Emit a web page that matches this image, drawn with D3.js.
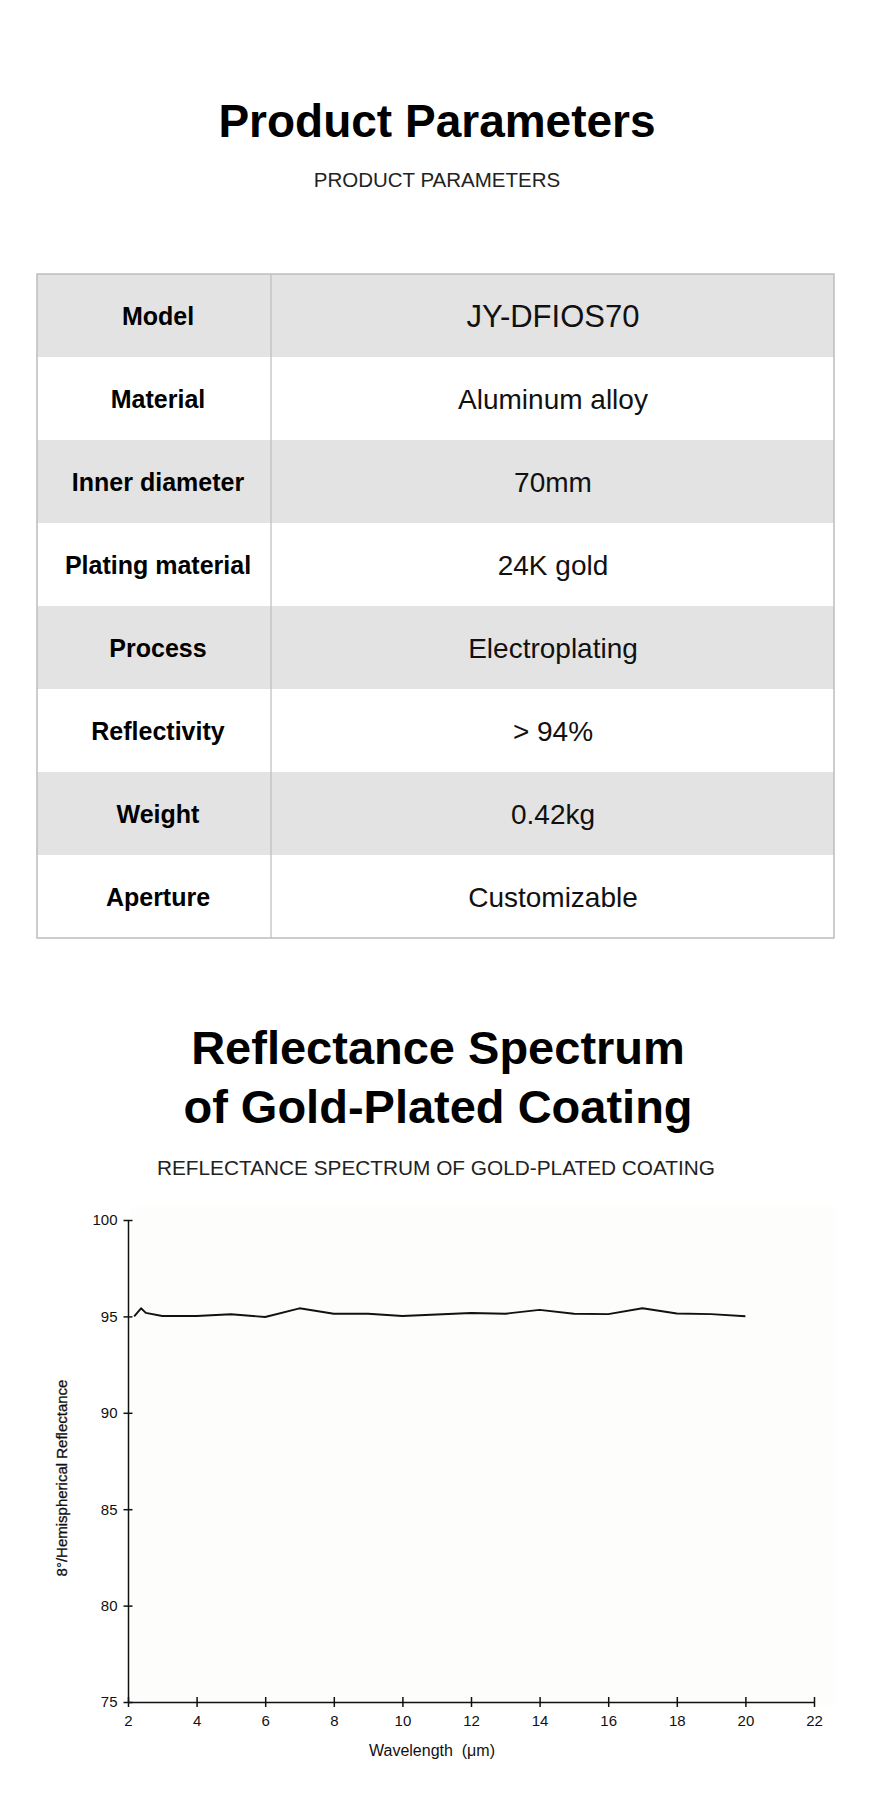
<!DOCTYPE html>
<html>
<head>
<meta charset="utf-8">
<script src="https://cdnjs.cloudflare.com/ajax/libs/d3/7.8.5/d3.min.js"></script>
<style>
  body { margin: 0; background: #fff; }
  svg { display: block; }
</style>
</head>
<body>
<script>
var width = 870,
    height = 1808;

// table content
var paramNames = ["Model", "Material", "Inner diameter", "Plating material", "Process", "Reflectivity", "Weight", "Aperture"];
var paramValues = ["JY-DFIOS70", "Aluminum alloy", "70mm", "24K gold", "Electroplating", "> 94%", "0.42kg", "Customizable"];

// spectrum
var wavelength = [2.18, 2.38, 2.52, 3, 4, 5, 6, 7, 8, 9, 10, 11, 12, 13, 14, 15, 16, 17, 18, 19, 20];
var reflectance = [95.0, 95.42, 95.18, 95.02, 95.02, 95.11, 94.97, 95.42, 95.14, 95.14, 95.02, 95.1, 95.18, 95.14, 95.34, 95.14, 95.12, 95.42, 95.15, 95.12, 95.01];

var xTicks = [2, 4, 6, 8, 10, 12, 14, 16, 18, 20, 22];
var yTicks = [75, 80, 85, 90, 95, 100];

var svg = d3.select("body")
    .append("svg")
    .attr("width", width)
    .attr("height", height);

var font = "'Liberation Sans', Arial, Helvetica, sans-serif";
var cx = 437;

// ---- headings ----
svg.append("text")
    .attr("x", cx).attr("y", 137)
    .attr("text-anchor", "middle")
    .style("font-family", font).style("font-weight", "bold").style("font-size", "46px")
    .text("Product Parameters");

svg.append("text")
    .attr("x", cx).attr("y", 187)
    .attr("text-anchor", "middle")
    .style("font-family", font).style("font-size", "20.5px").style("fill", "#222")
    .text("PRODUCT PARAMETERS");

// ---- parameter table ----
var tableLeft = 37, tableRight = 834, tableTop = 274, rowH = 83, splitX = 271;

var rows = d3.scaleBand()
    .domain(d3.range(paramNames.length))
    .range([tableTop, tableTop + rowH * paramNames.length]);

var row = svg.append("g").selectAll("g")
    .data(paramNames)
    .enter().append("g");

row.append("rect")
    .attr("x", tableLeft)
    .attr("y", function(d, i) { return rows(i); })
    .attr("width", tableRight - tableLeft)
    .attr("height", rows.bandwidth())
    .attr("fill", function(d, i) { return i % 2 === 0 ? "#e3e3e3" : "#ffffff"; });

row.append("text")
    .attr("x", 158)
    .attr("y", function(d, i) { return rows(i) + rowH / 2 + 9; })
    .attr("text-anchor", "middle")
    .style("font-family", font).style("font-weight", "bold").style("font-size", "25px")
    .text(function(d) { return d; });

row.append("text")
    .attr("x", 553)
    .attr("y", function(d, i) { return rows(i) + rowH / 2 + (i === 0 ? 11 : 10.5); })
    .attr("text-anchor", "middle")
    .style("font-family", font).style("font-size", function(d, i) { return i === 0 ? "31px" : "28px"; })
    .style("fill", "#111")
    .text(function(d, i) { return paramValues[i]; });

svg.append("rect")
    .attr("x", tableLeft).attr("y", tableTop)
    .attr("width", tableRight - tableLeft)
    .attr("height", rowH * paramNames.length)
    .attr("fill", "none").attr("stroke", "#bdbdbd").attr("stroke-width", 1.5);

svg.append("line")
    .attr("x1", splitX).attr("x2", splitX)
    .attr("y1", tableTop).attr("y2", tableTop + rowH * paramNames.length)
    .attr("stroke", "#bdbdbd").attr("stroke-width", 1.2);

// ---- spectrum heading ----
svg.append("text")
    .attr("x", cx + 1).attr("y", 1064)
    .attr("text-anchor", "middle")
    .style("font-family", font).style("font-weight", "bold").style("font-size", "47px")
    .text("Reflectance Spectrum");

svg.append("text")
    .attr("x", cx + 1).attr("y", 1123)
    .attr("text-anchor", "middle")
    .style("font-family", font).style("font-weight", "bold").style("font-size", "47px")
    .text("of Gold-Plated Coating");

svg.append("text")
    .attr("x", cx - 1).attr("y", 1175)
    .attr("text-anchor", "middle")
    .style("font-family", font).style("font-size", "20.8px").style("fill", "#222")
    .text("REFLECTANCE SPECTRUM OF GOLD-PLATED COATING");

// ---- chart ----
var x = d3.scaleLinear().domain([2, 22]).range([128, 814]);
var y = d3.scaleLinear().domain([75, 100]).range([1702, 1220]);

svg.append("rect")
    .attr("x", 131).attr("y", 1207)
    .attr("width", 705).attr("height", 498)
    .attr("fill", "#fdfdfb");

var yAxis = svg.append("g")
    .attr("transform", "translate(" + x(2) + ",0)")
    .call(d3.axisLeft(y).tickValues(yTicks).tickSize(4.5).tickSizeOuter(0).tickPadding(6));

yAxis.selectAll(".tick line").attr("x1", 4.5);

var xAxis = svg.append("g")
    .attr("transform", "translate(0," + y(75) + ")")
    .call(d3.axisBottom(x).tickValues(xTicks).tickSize(5).tickSizeOuter(0).tickPadding(8.5));

xAxis.selectAll(".tick line").attr("y1", -5);

svg.selectAll(".domain, .tick line")
    .attr("stroke", "#111").attr("stroke-width", 1.5);

svg.selectAll(".tick text")
    .style("font-family", font).style("font-size", "15px").attr("fill", "#111");

var line = d3.line()
    .x(function(d, i) { return x(wavelength[i]); })
    .y(function(d) { return y(d); });

svg.append("path")
    .datum(reflectance)
    .attr("d", line)
    .attr("fill", "none")
    .attr("stroke", "#111")
    .attr("stroke-width", 1.9)
    .attr("stroke-linejoin", "round");

svg.append("text")
    .attr("x", 432).attr("y", 1756)
    .attr("text-anchor", "middle")
    .style("white-space", "pre")
    .style("font-family", font).style("font-size", "16px").style("fill", "#111")
    .text("Wavelength  (μm)");

svg.append("text")
    .attr("transform", "translate(67,1478) rotate(-90)")
    .attr("text-anchor", "middle")
    .style("font-family", font).style("font-size", "15px").style("fill", "#111")
    .style("stroke", "#111").style("stroke-width", 0.3)
    .text("8°/Hemispherical Reflectance");
</script>
</body>
</html>
